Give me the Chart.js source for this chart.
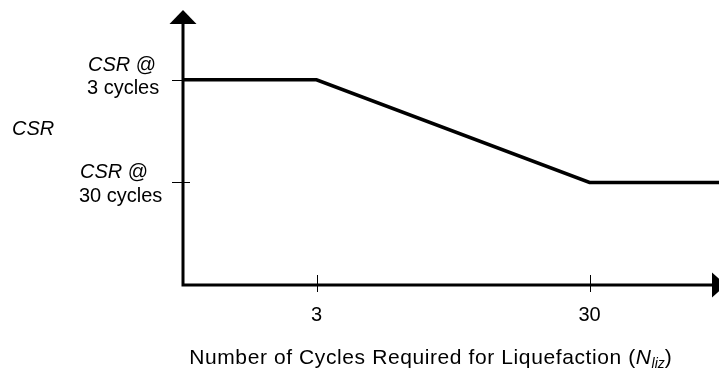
<!DOCTYPE html>
<html>
<head>
<meta charset="utf-8">
<script src="https://cdn.jsdelivr.net/npm/chart.js@4"></script>
<style>
  html, body { margin: 0; padding: 0; background: #fff; }
  #wrap { width: 719px; height: 372px; }
</style>
</head>
<body>
<div id="wrap"><canvas id="chart"></canvas></div>
<script>
// cycles (log axis) and CSR levels of the schematic curve
const cycles = [0.973, 3, 30, 89.4];
const csr = [2, 2, 1, 1];

const xTicks = [3, 30];
const xTickLabels = ['3', '30'];
const yTicks = [2, 1];
const yTickLabels = [['CSR', '3 cycles'], ['CSR', '30 cycles']];

const FONT = '"Liberation Sans", Arial, sans-serif';

function arrow(ctx, tipX, tipY, dir) {
  ctx.beginPath();
  if (dir === 'up') {
    ctx.moveTo(tipX, tipY);
    ctx.lineTo(tipX - 13.5, tipY + 14);
    ctx.lineTo(tipX + 13.5, tipY + 14);
  } else {
    ctx.moveTo(tipX, tipY);
    ctx.lineTo(tipX - 14, tipY - 12.5);
    ctx.lineTo(tipX - 14, tipY + 12.5);
  }
  ctx.closePath();
  ctx.fill();
}

const axesPlugin = {
  id: 'schematicAxes',
  afterDatasetsDraw(chart) {
    const ctx = chart.ctx;
    const area = chart.chartArea;
    const xs = chart.scales.x;
    const ys = chart.scales.y;
    const x0 = area.left, y0 = area.bottom;
    ctx.save();
    ctx.strokeStyle = '#000';
    ctx.fillStyle = '#000';

    // axis lines
    ctx.lineWidth = 3;
    ctx.beginPath();
    ctx.moveTo(x0, area.top + 6);
    ctx.lineTo(x0, y0);
    ctx.lineTo(chart.width + 10, y0);
    ctx.stroke();
    arrow(ctx, x0, area.top, 'up');
    arrow(ctx, chart.width + 7, y0, 'right');

    // tick marks
    ctx.lineWidth = 1;
    xTicks.forEach(v => {
      const px = Math.round(xs.getPixelForValue(v)) + 0.5;
      ctx.beginPath();
      ctx.moveTo(px, y0 - 10);
      ctx.lineTo(px, y0 + 7);
      ctx.stroke();
    });
    yTicks.forEach(v => {
      const py = Math.round(ys.getPixelForValue(v)) + 0.5;
      ctx.beginPath();
      ctx.moveTo(x0 - 11, py);
      ctx.lineTo(x0 + 7, py);
      ctx.stroke();
    });

    // x tick labels
    ctx.font = '20px ' + FONT;
    ctx.textAlign = 'center';
    ctx.textBaseline = 'alphabetic';
    xTicks.forEach((v, i) => {
      ctx.fillText(xTickLabels[i], xs.getPixelForValue(v), y0 + 36);
    });

    // y tick labels: italic CSR followed by "@", then cycle count
    ctx.textAlign = 'left';
    const labelPos = [{ x: 87, y1: 71, y2: 94 }, { x: 79, y1: 178, y2: 202 }];
    yTicks.forEach((v, i) => {
      const p = labelPos[i];
      ctx.font = 'italic 20px ' + FONT;
      ctx.fillText(yTickLabels[i][0], p.x + 1, p.y1);
      const w = ctx.measureText(yTickLabels[i][0] + ' ').width;
      ctx.font = '20px ' + FONT;
      ctx.fillText('@', p.x + 1 + w, p.y1);
      ctx.fillText(yTickLabels[i][1], p.x, p.y2);
    });

    // y axis title
    ctx.font = 'italic 20px ' + FONT;
    ctx.fillText('CSR', 12, 135);

    // x axis title with italic subscripted N
    const parts = [
      { t: 'Number of Cycles Required for Liquefaction (', f: '21px ', dy: 0, ls: '0.6px' },
      { t: 'N', f: 'italic 21px ', dy: 0, ls: '0.6px' },
      { t: 'liz', f: 'italic 14px ', dy: 4, ls: '0px' },
      { t: ')', f: '21px ', dy: 0, ls: '0px' }
    ];
    let total = 0;
    parts.forEach(p => {
      ctx.font = p.f + FONT;
      ctx.letterSpacing = p.ls;
      p.w = ctx.measureText(p.t).width;
      total += p.w;
    });
    let tx = 430.5 - total / 2;
    parts.forEach(p => {
      ctx.font = p.f + FONT;
      ctx.letterSpacing = p.ls;
      ctx.fillText(p.t, tx, 364 + p.dy);
      tx += p.w;
    });
    ctx.restore();
  }
};

new Chart(document.getElementById('chart'), {
  type: 'line',
  data: {
    labels: cycles,
    datasets: [{
      data: cycles.map((c, i) => ({ x: c, y: csr[i] })),
      borderColor: '#000',
      borderWidth: 3.5,
      pointRadius: 0,
      tension: 0,
      fill: false
    }]
  },
  options: {
    responsive: true,
    maintainAspectRatio: false,
    animation: false,
    layout: { padding: { left: 183, top: 10, right: 0, bottom: 87 } },
    plugins: { legend: { display: false }, tooltip: { enabled: false } },
    scales: {
      x: { type: 'logarithmic', min: 0.973, max: 89.4, display: false },
      y: { type: 'linear', min: 0, max: 2.68, display: false }
    }
  },
  plugins: [axesPlugin]
});
</script>
</body>
</html>
